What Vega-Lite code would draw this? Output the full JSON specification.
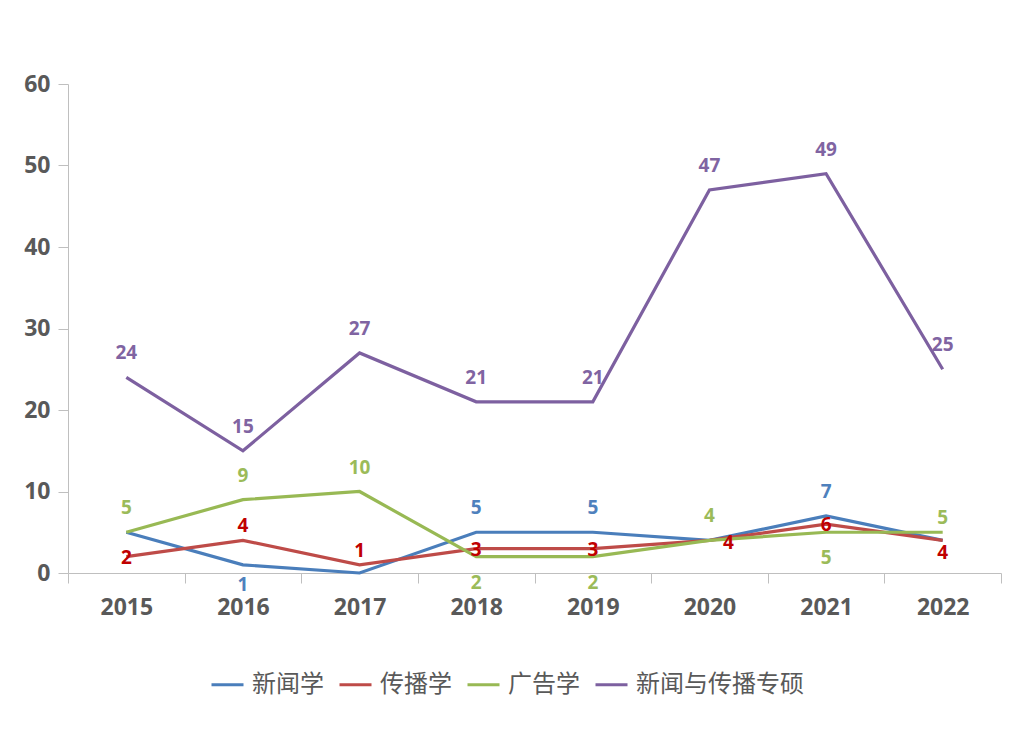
{
  "$schema": "https://vega.github.io/schema/vega-lite/v6.json",
  "width": 933,
  "height": 489,
  "autosize": {"type": "none"},
  "padding": {"left": 68, "top": 84, "right": 27, "bottom": 159},
  "background": "white",
  "config": {"view": {"stroke": null}, "font": "Open Sans"},
  "data": {
    "values": [
      {"year": "2015", "series": "新闻学", "value": 5},
      {"year": "2016", "series": "新闻学", "value": 1},
      {"year": "2017", "series": "新闻学", "value": 0},
      {"year": "2018", "series": "新闻学", "value": 5},
      {"year": "2019", "series": "新闻学", "value": 5},
      {"year": "2020", "series": "新闻学", "value": 4},
      {"year": "2021", "series": "新闻学", "value": 7},
      {"year": "2022", "series": "新闻学", "value": 4},
      {"year": "2015", "series": "传播学", "value": 2},
      {"year": "2016", "series": "传播学", "value": 4},
      {"year": "2017", "series": "传播学", "value": 1},
      {"year": "2018", "series": "传播学", "value": 3},
      {"year": "2019", "series": "传播学", "value": 3},
      {"year": "2020", "series": "传播学", "value": 4},
      {"year": "2021", "series": "传播学", "value": 6},
      {"year": "2022", "series": "传播学", "value": 4},
      {"year": "2015", "series": "广告学", "value": 5},
      {"year": "2016", "series": "广告学", "value": 9},
      {"year": "2017", "series": "广告学", "value": 10},
      {"year": "2018", "series": "广告学", "value": 2},
      {"year": "2019", "series": "广告学", "value": 2},
      {"year": "2020", "series": "广告学", "value": 4},
      {"year": "2021", "series": "广告学", "value": 5},
      {"year": "2022", "series": "广告学", "value": 5},
      {"year": "2015", "series": "新闻与传播专硕", "value": 24},
      {"year": "2016", "series": "新闻与传播专硕", "value": 15},
      {"year": "2017", "series": "新闻与传播专硕", "value": 27},
      {"year": "2018", "series": "新闻与传播专硕", "value": 21},
      {"year": "2019", "series": "新闻与传播专硕", "value": 21},
      {"year": "2020", "series": "新闻与传播专硕", "value": 47},
      {"year": "2021", "series": "新闻与传播专硕", "value": 49},
      {"year": "2022", "series": "新闻与传播专硕", "value": 25}
    ]
  },
  "transform": [{"calculate": "datum.series + datum.year", "as": "k"}],
  "encoding": {
    "x": {
      "field": "year",
      "type": "nominal",
      "scale": {"type": "band", "paddingInner": 0, "paddingOuter": 0},
      "axis": {
        "title": null,
        "labelAngle": 0,
        "labelFont": "Open Sans",
        "labelFontSize": 23,
        "labelFontWeight": "bold",
        "labelColor": "#595959",
        "domainColor": "#BFBFBF",
        "tickColor": "#BFBFBF",
        "tickSize": 10,
        "tickBand": "extent",
        "labelPadding": 13,
        "grid": false
      }
    },
    "y": {
      "field": "value",
      "type": "quantitative",
      "scale": {"domain": [0, 60]},
      "axis": {
        "title": null,
        "values": [0, 10, 20, 30, 40, 50, 60],
        "labelFont": "Open Sans",
        "labelFontSize": 23,
        "labelFontWeight": "bold",
        "labelColor": "#595959",
        "domainColor": "#BFBFBF",
        "tickColor": "#BFBFBF",
        "tickSize": 10,
        "labelPadding": 8,
        "grid": false
      }
    }
  },
  "layer": [
    {
      "mark": {"type": "line", "strokeWidth": 3.2},
      "encoding": {
        "color": {
          "field": "series",
          "type": "nominal",
          "scale": {
            "domain": ["新闻学", "传播学", "广告学", "新闻与传播专硕"],
            "range": ["#4A7EBB", "#BE4B48", "#98B954", "#7D60A0"]
          },
          "legend": {
            "title": null,
            "orient": "none",
            "legendX": 142,
            "legendY": 583,
            "direction": "horizontal",
            "symbolType": "stroke",
            "symbolStrokeWidth": 3,
            "symbolSize": 1024,
            "labelFont": "Noto Sans CJK SC",
            "labelFontSize": 24,
            "labelColor": "#595959",
            "labelLimit": 0,
            "labelOffset": 7,
            "columnPadding": 9
          }
        }
      }
    },
    {
      "transform": [{"filter": {"field": "k", "oneOf": ["新闻与传播专硕2015", "新闻与传播专硕2016", "新闻与传播专硕2017", "新闻与传播专硕2018", "新闻与传播专硕2019", "新闻与传播专硕2020", "新闻与传播专硕2021", "新闻与传播专硕2022", "广告学2015", "广告学2016", "广告学2017", "广告学2020", "新闻学2018", "新闻学2019", "新闻学2021"]}}],
      "mark": {"type": "text", "font": "Open Sans", "fontSize": 19, "fontWeight": "bold", "dy": -24},
      "encoding": {
        "text": {"field": "value", "type": "quantitative"},
        "fill": {"field": "series", "type": "nominal", "scale": {"domain": ["新闻学", "传播学", "广告学", "新闻与传播专硕"], "range": ["#4F81BD", "#C00000", "#9BBB59", "#8064A2"]}, "legend": null}
      }
    },
    {
      "transform": [{"filter": {"field": "k", "oneOf": ["传播学2016", "传播学2017", "广告学2022"]}}],
      "mark": {"type": "text", "font": "Open Sans", "fontSize": 19, "fontWeight": "bold", "dy": -14},
      "encoding": {
        "text": {"field": "value", "type": "quantitative"},
        "fill": {"field": "series", "type": "nominal", "scale": {"domain": ["新闻学", "传播学", "广告学", "新闻与传播专硕"], "range": ["#4F81BD", "#C00000", "#9BBB59", "#8064A2"]}, "legend": null}
      }
    },
    {
      "transform": [{"filter": {"field": "k", "oneOf": ["传播学2015", "传播学2018", "传播学2019", "传播学2021"]}}],
      "mark": {"type": "text", "font": "Open Sans", "fontSize": 19, "fontWeight": "bold", "dy": 1},
      "encoding": {
        "text": {"field": "value", "type": "quantitative"},
        "fill": {"field": "series", "type": "nominal", "scale": {"domain": ["新闻学", "传播学", "广告学", "新闻与传播专硕"], "range": ["#4F81BD", "#C00000", "#9BBB59", "#8064A2"]}, "legend": null}
      }
    },
    {
      "transform": [{"filter": {"field": "k", "oneOf": ["广告学2018", "广告学2019", "广告学2021"]}}],
      "mark": {"type": "text", "font": "Open Sans", "fontSize": 19, "fontWeight": "bold", "dy": 26},
      "encoding": {
        "text": {"field": "value", "type": "quantitative"},
        "fill": {"field": "series", "type": "nominal", "scale": {"domain": ["新闻学", "传播学", "广告学", "新闻与传播专硕"], "range": ["#4F81BD", "#C00000", "#9BBB59", "#8064A2"]}, "legend": null}
      }
    },
    {
      "transform": [{"filter": {"field": "k", "oneOf": ["新闻学2016"]}}],
      "mark": {"type": "text", "font": "Open Sans", "fontSize": 19, "fontWeight": "bold", "dy": 20},
      "encoding": {
        "text": {"field": "value", "type": "quantitative"},
        "fill": {"field": "series", "type": "nominal", "scale": {"domain": ["新闻学", "传播学", "广告学", "新闻与传播专硕"], "range": ["#4F81BD", "#C00000", "#9BBB59", "#8064A2"]}, "legend": null}
      }
    },
    {
      "transform": [{"filter": {"field": "k", "oneOf": ["传播学2022"]}}],
      "mark": {"type": "text", "font": "Open Sans", "fontSize": 19, "fontWeight": "bold", "dy": 13},
      "encoding": {
        "text": {"field": "value", "type": "quantitative"},
        "fill": {"field": "series", "type": "nominal", "scale": {"domain": ["新闻学", "传播学", "广告学", "新闻与传播专硕"], "range": ["#4F81BD", "#C00000", "#9BBB59", "#8064A2"]}, "legend": null}
      }
    },
    {
      "transform": [{"filter": {"field": "k", "oneOf": ["传播学2020"]}}],
      "mark": {"type": "text", "font": "Open Sans", "fontSize": 19, "fontWeight": "bold", "dx": 19, "dy": 3},
      "encoding": {
        "text": {"field": "value", "type": "quantitative"},
        "fill": {"field": "series", "type": "nominal", "scale": {"domain": ["新闻学", "传播学", "广告学", "新闻与传播专硕"], "range": ["#4F81BD", "#C00000", "#9BBB59", "#8064A2"]}, "legend": null}
      }
    }
  ]
}
